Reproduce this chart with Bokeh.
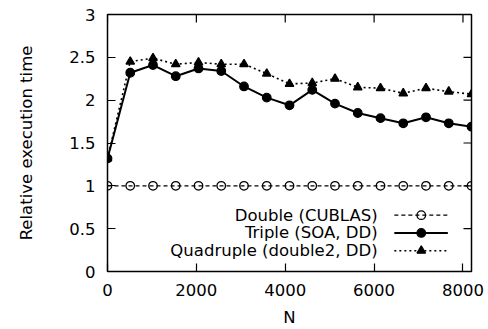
from bokeh.plotting import figure
from bokeh.models import Range1d, FixedTicker, Label
from bokeh.embed import file_html
from bokeh.resources import INLINE

# ---- data ----
n_values = [0, 512, 1024, 1536, 2048, 2560, 3072, 3584, 4096, 4608,
            5120, 5632, 6144, 6656, 7168, 7680, 8192]
double_cublas = [1.0] * 17
triple_soa = [1.32, 2.32, 2.41, 2.28, 2.37, 2.34, 2.16, 2.03, 1.94, 2.12,
              1.96, 1.85, 1.79, 1.73, 1.80, 1.73, 1.69]
quad_double2 = [1.32, 2.45, 2.49, 2.42, 2.44, 2.42, 2.42, 2.31, 2.19, 2.20,
                2.25, 2.15, 2.14, 2.08, 2.14, 2.10, 2.07]
series_names = ["Double (CUBLAS)", "Triple (SOA, DD)", "Quadruple (double2, DD)"]
x_ticks = [0, 2000, 4000, 6000, 8000]
x_tick_labels = ["0", "2000", "4000", "6000", "8000"]
y_ticks = [0, 0.5, 1, 1.5, 2, 2.5, 3]
y_tick_labels = ["0", "0.5", "1", "1.5", "2", "2.5", "3"]
x_label = "N"
y_label = "Relative execution time"

FONT = "DejaVu Sans"
FS = "16.5px"
X0, X1 = 0, 8192
Y0, Y1 = 0, 3
W, H = 488, 329
BL, BR, BT, BB = 107, 17, 14, 55
TICK = 8

p = figure(width=W, height=H, output_backend="svg", toolbar_location=None,
           x_range=Range1d(X0, X1), y_range=Range1d(Y0, Y1),
           min_border_left=BL, min_border_right=BR, min_border_top=BT,
           min_border_bottom=BB, x_axis_label=x_label, y_axis_label=y_label)
p.grid.visible = False
p.outline_line_color = "black"
p.outline_line_width = 1.5
p.background_fill_color = "white"
p.border_fill_color = "white"


def style_axis(ax, ticks, labels):
    ax.ticker = FixedTicker(ticks=ticks)
    ax.major_label_overrides = {t: l for t, l in zip(ticks, labels)}
    ax.major_tick_in = TICK
    ax.major_tick_out = 0
    ax.minor_tick_in = 0
    ax.minor_tick_out = 0
    ax.major_tick_line_color = "black"
    ax.major_tick_line_width = 1.2
    ax.axis_line_color = None
    ax.major_label_text_font = FONT
    ax.major_label_text_font_size = FS
    ax.major_label_text_color = "black"
    ax.axis_label_text_font = FONT
    ax.axis_label_text_font_size = FS
    ax.axis_label_text_font_style = "normal"
    ax.axis_label_text_color = "black"


style_axis(p.xaxis[0], x_ticks, x_tick_labels)
p.xaxis[0].major_label_standoff = 12
p.xaxis[0].axis_label_standoff = 9
style_axis(p.yaxis[0], y_ticks, y_tick_labels)
p.yaxis[0].major_label_standoff = 12
p.yaxis[0].axis_label_standoff = 30

# mirrored inward ticks on the top and right borders (gnuplot style)
fw, fh = W - BL - BR, H - BT - BB
dx = TICK * (X1 - X0) / fw
dy = TICK * (Y1 - Y0) / fh
p.segment(x0=x_ticks, y0=[Y1] * len(x_ticks), x1=x_ticks,
          y1=[Y1 - dy] * len(x_ticks), line_color="black", line_width=1.2)
p.segment(x0=[X1] * len(y_ticks), y0=y_ticks, x1=[X1 - dx] * len(y_ticks),
          y1=y_ticks, line_color="black", line_width=1.2)

# ---- series ----
styles = [
    dict(data=double_cublas, dash="4 3", lw=1.3, marker="circle", fill=None, size=8.5),
    dict(data=triple_soa, dash="solid", lw=2.0, marker="circle", fill="black", size=8.5),
    dict(data=quad_double2, dash="2 3", lw=1.6, marker="triangle", fill="black", size=8.5),
]
for st in styles:
    p.line(n_values, st["data"], line_color="black", line_width=st["lw"],
           line_dash=st["dash"])
    p.scatter(n_values, st["data"], marker=st["marker"], size=st["size"],
              line_color="black", line_width=1.3,
              fill_color=st["fill"] if st["fill"] else "white",
              fill_alpha=1.0 if st["fill"] else 0.0)

# ---- legend (gnuplot style: text right-aligned, sample to the right) ----
def fx(f):
    return X0 + f * (X1 - X0)


def fy(f):
    return Y0 + f * (Y1 - Y0)


text_right = fx(0.742)
sample_l, sample_r, sample_m = fx(0.788), fx(0.935), fx(0.862)
rows = [fy(0.219), fy(0.150), fy(0.081)]
for name, st, ry in zip(series_names, styles, rows):
    p.add_layout(Label(x=text_right, y=ry, text=name, text_align="right",
                       text_baseline="middle", text_font=FONT,
                       text_font_size=FS, text_color="black"))
    p.line([sample_l, sample_r], [ry, ry], line_color="black",
           line_width=st["lw"], line_dash=st["dash"])
    p.scatter([sample_m], [ry], marker=st["marker"], size=st["size"],
              line_color="black", line_width=1.3,
              fill_color=st["fill"] if st["fill"] else "white",
              fill_alpha=1.0 if st["fill"] else 0.0)

open("out.html", "w").write(file_html(p, INLINE))
